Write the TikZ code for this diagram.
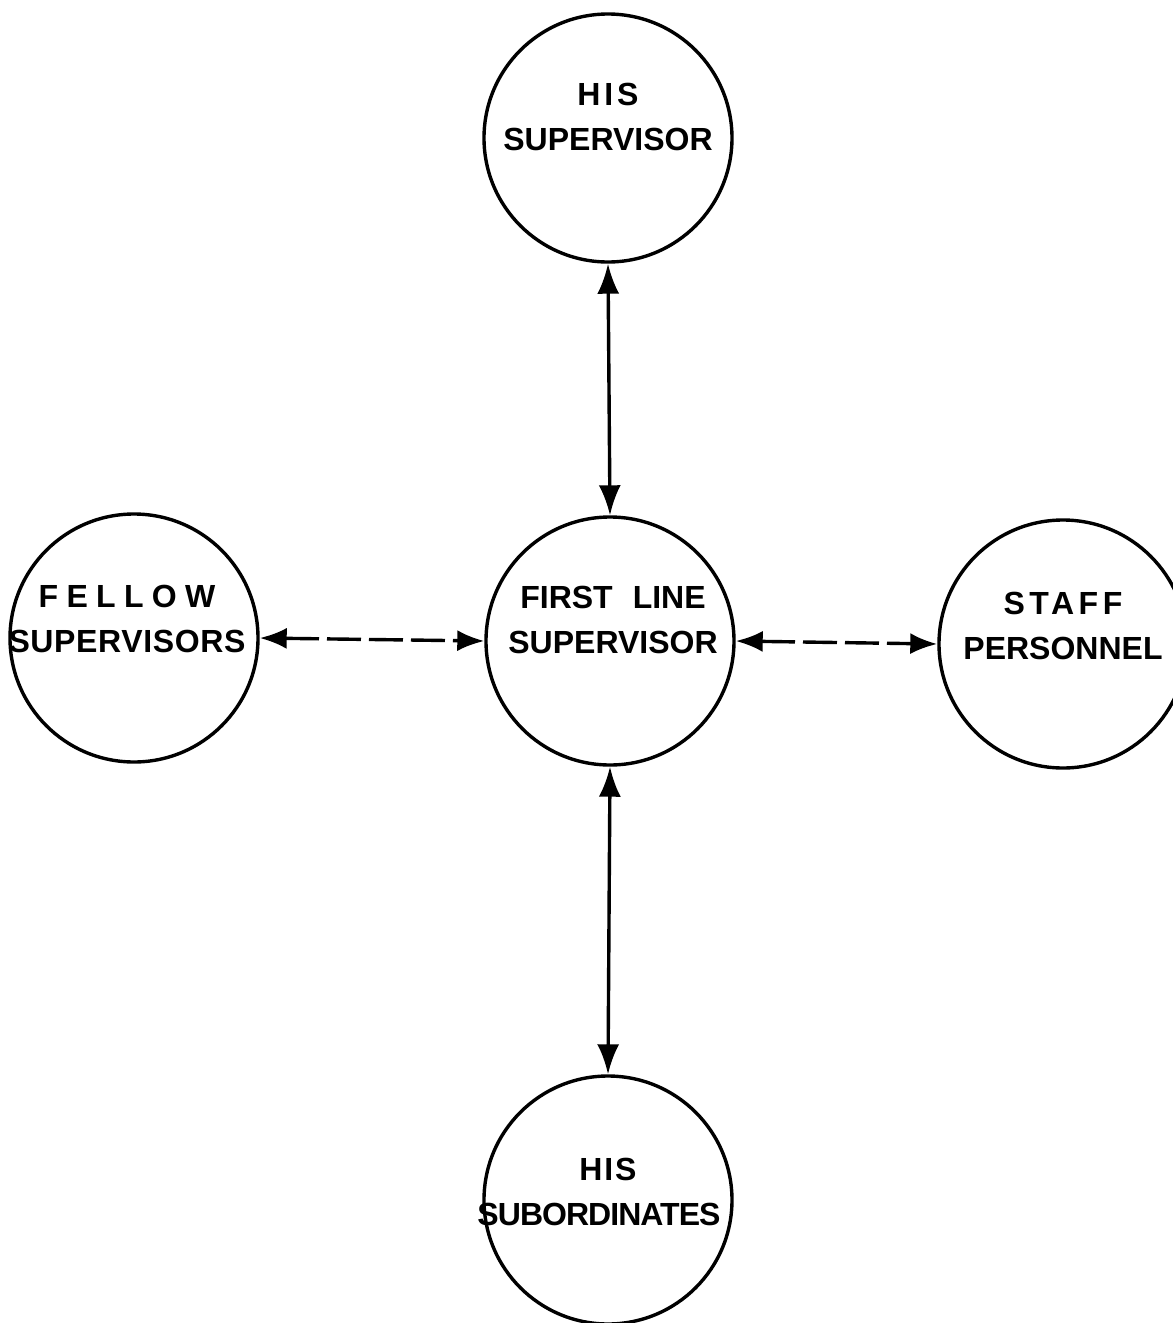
\documentclass[tikz,border=0pt]{standalone}
\usepackage{fontspec}
\setmainfont{Liberation Sans}
\usetikzlibrary{arrows.meta}
\begin{document}
\begin{tikzpicture}[x=1pt,y=-1pt,
  circ/.style={circle,draw,line width=3.4pt,minimum size=248pt,inner sep=0pt},
  lbl/.style={align=center,font=\fontsize{32}{45}\selectfont\bfseries},
  vlink/.style={line width=3.4pt,{Latex[length=30pt,width=22pt]}-{Latex[length=30pt,width=22pt]}},
  hlink/.style={line width=3.4pt,dash pattern=on 34pt off 8pt,{Latex[length=27pt,width=21pt]}-{Latex[length=27pt,width=21pt]}}]
\useasboundingbox (0,0) rectangle (1173,1323);
\fill[white] (0,0) rectangle (1173,1323);
% circles
\node[circ] (top) at (608,138) {};
\node[circ] (mid) at (610,641) {};
\node[circ] (left) at (134,638) {};
\node[circ] (right) at (1063,644) {};
\node[circ] (bot) at (608,1200) {};
% labels
\node[lbl] (ltop) at (608,117) {\addfontfeature{LetterSpace=12}HIS\\SUPERVISOR};
\node[lbl] (lmid) at (613,620) {FIRST\hspace{20pt}LINE\\SUPERVISOR};
\node[lbl] (lleft) at (127,619) {\addfontfeature{LetterSpace=26}FELLOW\\\addfontfeature{LetterSpace=2}SUPERVISORS};
\node[lbl] (lright) at (1063,626) {\addfontfeature{LetterSpace=14}STAFF\\PERSONNEL};
\node[lbl] (lbot) at (599,1192) {\addfontfeature{LetterSpace=6}\hspace*{18pt}HIS\\\addfontfeature{LetterSpace=-3}SUBORDINATES};
% connectors
\draw[vlink] (top.south) -- (mid.north);
\draw[vlink] (mid.south) -- (bot.north);
\draw[hlink] (left.east) -- (mid.west);
\draw[hlink] (mid.east) -- (right.west);
\end{tikzpicture}
\end{document}
